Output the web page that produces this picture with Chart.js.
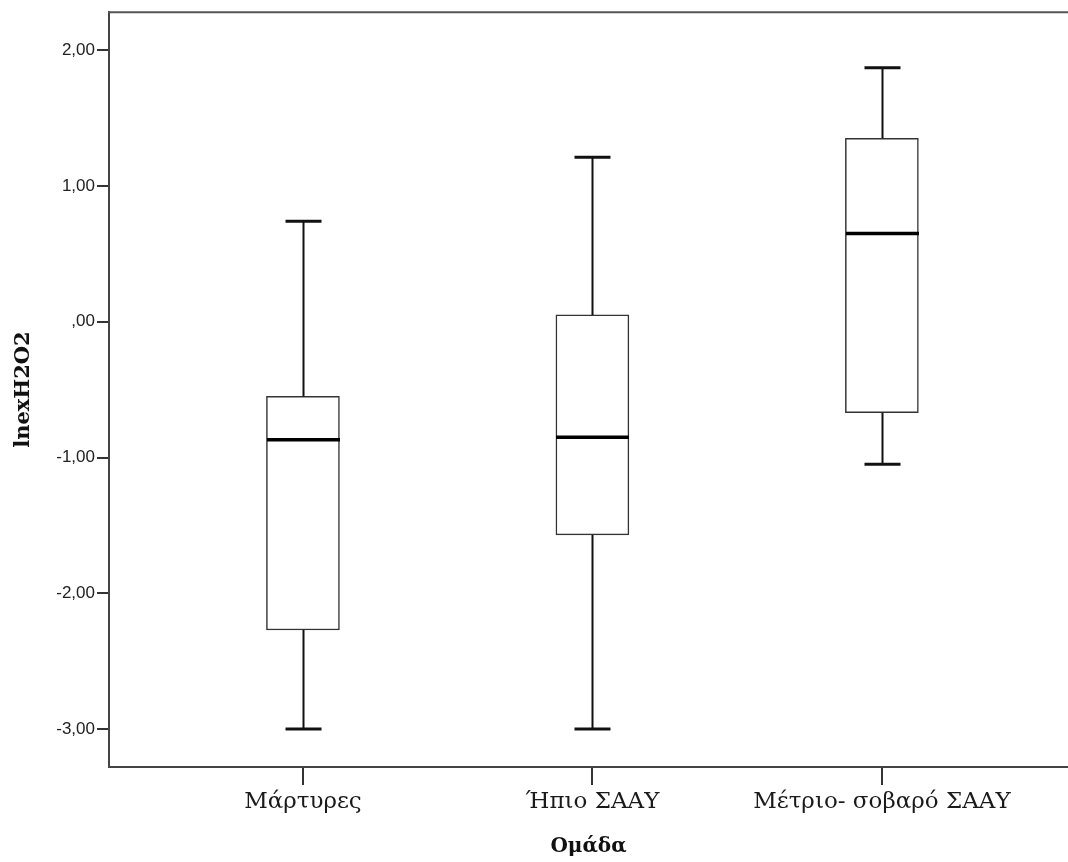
<!DOCTYPE html>
<html>
<head>
<meta charset="utf-8">
<script src="https://cdn.jsdelivr.net/npm/chart.js@4.4.0/dist/chart.umd.min.js"></script>
<style>
  html, body { margin: 0; padding: 0; background: #ffffff; }
  #wrap { width: 1068px; height: 862px; }
</style>
</head>
<body>
<div id="wrap"><canvas id="c" width="1068" height="862"></canvas></div>
<script>
// ---- data ----
const categories = ['Μάρτυρες', 'Ήπιο ΣΑΑΥ', 'Μέτριο- σοβαρό ΣΑΑΥ'];
const whiskerLow  = [-3.00, -3.00, -1.05];
const q1Values    = [-2.27, -1.57, -0.67];
const medianValues = [-0.87, -0.85, 0.65];
const q3Values    = [-0.55, 0.05, 1.35];
const whiskerHigh = [0.74, 1.21, 1.87];
const yTickValues = [2, 1, 0, -1, -2, -3];
const yTickLabels = ['2,00', '1,00', ',00', '-1,00', '-2,00', '-3,00'];
const xTitle = 'Ομάδα';
const yTitle = 'lnexH2O2';

const boxData = categories.map((c, i) => ({ x: i, y: [q1Values[i], q3Values[i]] }));

const boxPlugin = {
  id: 'boxParts',
  afterDatasetsDraw(chart) {
    const ctx = chart.ctx;
    const xs = chart.scales.x, ys = chart.scales.y;
    const boxW = 73, capW = 36;
    ctx.save();
    ctx.lineCap = 'butt';
    categories.forEach((c, i) => {
      const x = Math.round(xs.getPixelForValue(i)) + 0.5;
      const yMin = ys.getPixelForValue(whiskerLow[i]);
      const yMax = ys.getPixelForValue(whiskerHigh[i]);
      const yQ1 = ys.getPixelForValue(q1Values[i]);
      const yQ3 = ys.getPixelForValue(q3Values[i]);
      const yMed = ys.getPixelForValue(medianValues[i]);
      ctx.strokeStyle = '#111';
      ctx.lineWidth = 2;
      ctx.beginPath();
      ctx.moveTo(x, yQ3); ctx.lineTo(x, yMax);
      ctx.moveTo(x, yQ1); ctx.lineTo(x, yMin);
      ctx.stroke();
      ctx.lineWidth = 3;
      ctx.beginPath();
      ctx.moveTo(x - capW / 2, yMax); ctx.lineTo(x + capW / 2, yMax);
      ctx.moveTo(x - capW / 2, yMin); ctx.lineTo(x + capW / 2, yMin);
      ctx.stroke();
      ctx.strokeStyle = '#000';
      ctx.lineWidth = 3.5;
      ctx.beginPath();
      ctx.moveTo(x - boxW / 2, yMed); ctx.lineTo(x + boxW / 2, yMed);
      ctx.stroke();
    });
    // top frame line
    const a = chart.chartArea;
    ctx.strokeStyle = '#555';
    ctx.lineWidth = 2;
    ctx.beginPath();
    ctx.moveTo(a.left - 1, a.top); ctx.lineTo(chart.width, a.top);
    ctx.stroke();
    ctx.restore();
  }
};

new Chart(document.getElementById('c'), {
  type: 'bar',
  data: {
    datasets: [{
      data: boxData,
      backgroundColor: '#ffffff',
      borderColor: '#333333',
      borderWidth: 1.5,
      borderSkipped: false,
      barThickness: 73
    }]
  },
  options: {
    responsive: false,
    devicePixelRatio: 1,
    animation: false,
    layout: { padding: { top: 11, right: 0, bottom: 0, left: 0 } },
    plugins: { legend: { display: false }, tooltip: { enabled: false } },
    scales: {
      x: {
        type: 'linear',
        min: -0.670,
        max: 2.643,
        offset: false,
        afterBuildTicks(s) { s.ticks = categories.map((c, i) => ({ value: i })); },
        afterFit(s) { s.height = 95; },
        ticks: {
          callback: (v) => categories[v],
          font: { family: 'DejaVu Serif', size: 23 },
          color: '#1a1a1a',
          padding: 3,
          maxRotation: 0,
          autoSkip: false
        },
        grid: { offset: false, drawOnChartArea: false, drawTicks: true, tickLength: 18, color: '#333', lineWidth: 2 },
        border: { display: true, color: '#444', width: 2 },
        title: {
          display: true, text: xTitle,
          font: { family: 'DejaVu Serif', size: 20, weight: 'bold' },
          color: '#111',
          padding: { top: 0, bottom: 3 }
        }
      },
      y: {
        type: 'linear',
        min: -3.279,
        max: 2.279,
        afterBuildTicks(s) { s.ticks = yTickValues.map(v => ({ value: v })); },
        afterFit(s) { s.width = 109; },
        ticks: {
          callback: (v) => yTickLabels[yTickValues.indexOf(v)],
          font: { family: 'Liberation Sans', size: 17 },
          color: '#222',
          padding: 2
        },
        grid: { drawOnChartArea: false, drawTicks: true, tickLength: 12, color: '#333', lineWidth: 2 },
        border: { display: true, color: '#444', width: 2 },
        title: {
          display: true, text: yTitle,
          font: { family: 'DejaVu Serif', size: 21, weight: 'bold' },
          color: '#111',
          padding: { top: 11, bottom: 0 }
        }
      }
    }
  },
  plugins: [boxPlugin]
});
</script>
</body>
</html>
